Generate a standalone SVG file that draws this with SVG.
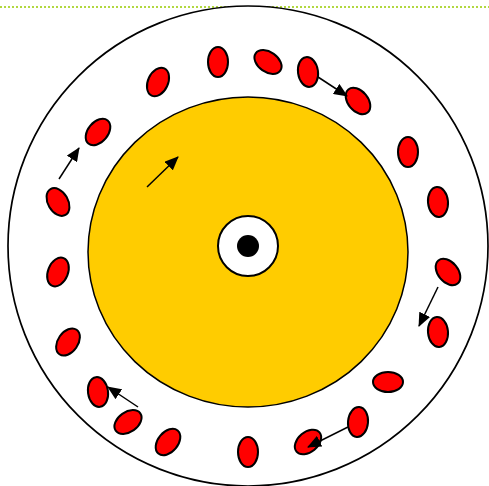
<svg xmlns="http://www.w3.org/2000/svg" width="489" height="486" viewBox="0 0 489 486">
<defs>
<style>
.e{fill:#ff0000;stroke:#000;stroke-width:2}
.a{stroke:#000;stroke-width:1.5;fill:none;marker-end:url(#ah)}
</style>
<marker id="ah" viewBox="0 0 14 12" refX="13" refY="6" markerWidth="14" markerHeight="12" markerUnits="userSpaceOnUse" orient="auto">
<path d="M0,0 L14,6 L0,12 Z" fill="#000"/>
</marker>
</defs>
<rect width="489" height="486" fill="#fff"/>
<line x1="0" y1="7" x2="489" y2="7" stroke="#99cc00" stroke-width="1.5" stroke-dasharray="2,2"/>
<g id="outer"><circle cx="248" cy="246" r="240" fill="#fff" stroke="#000" stroke-width="1.7"/></g>
<g id="core"><ellipse cx="248" cy="252" rx="160" ry="155" fill="#ffcc00" stroke="#000" stroke-width="1.5"/></g>
<g id="hub"><circle cx="248" cy="246" r="30" fill="#fff" stroke="#000" stroke-width="2"/><circle cx="248" cy="246" r="11" fill="#000"/></g>
<g id="particles">
<ellipse class="e" cx="218" cy="62" rx="10" ry="15"/>
<ellipse class="e" cx="268" cy="62" rx="10" ry="15" transform="rotate(-55 268 62)"/>
<ellipse class="e" cx="308" cy="72" rx="10" ry="15" transform="rotate(-8 308 72)"/>
<ellipse class="e" cx="358" cy="101" rx="10" ry="15" transform="rotate(-40 358 101)"/>
<ellipse class="e" cx="408" cy="152" rx="10" ry="15"/>
<ellipse class="e" cx="438" cy="202" rx="10" ry="15" transform="rotate(-5 438 202)"/>
<ellipse class="e" cx="448" cy="272" rx="10" ry="15" transform="rotate(-40 448 272)"/>
<ellipse class="e" cx="438" cy="332" rx="10" ry="15" transform="rotate(-5 438 332)"/>
<ellipse class="e" cx="388" cy="382" rx="15" ry="10"/>
<ellipse class="e" cx="358" cy="422" rx="10" ry="15" transform="rotate(5 358 422)"/>
<ellipse class="e" cx="308" cy="442" rx="10" ry="15" transform="rotate(50 308 442)"/>
<ellipse class="e" cx="248" cy="452" rx="10" ry="15"/>
<ellipse class="e" cx="168" cy="442" rx="10" ry="15" transform="rotate(40 168 442)"/>
<ellipse class="e" cx="128" cy="422" rx="10" ry="15" transform="rotate(55 128 422)"/>
<ellipse class="e" cx="98" cy="392" rx="10" ry="15" transform="rotate(-8 98 392)"/>
<ellipse class="e" cx="68" cy="342" rx="10" ry="15" transform="rotate(35 68 342)"/>
<ellipse class="e" cx="58" cy="272" rx="10" ry="15" transform="rotate(22 58 272)"/>
<ellipse class="e" cx="58" cy="202" rx="10" ry="15" transform="rotate(-30 58 202)"/>
<ellipse class="e" cx="98" cy="132" rx="10" ry="15" transform="rotate(40 98 132)"/>
<ellipse class="e" cx="158" cy="82" rx="10" ry="15" transform="rotate(25 158 82)"/>
</g>
<g id="connectors">
<line class="a" x1="318" y1="77" x2="347" y2="96"/>
<line class="a" x1="438" y1="287" x2="419" y2="326"/>
<line class="a" x1="348" y1="427" x2="308" y2="447"/>
<line class="a" x1="138" y1="407" x2="108" y2="387"/>
<line class="a" x1="59" y1="179" x2="79" y2="148"/>
<line class="a" x1="147" y1="187" x2="178" y2="157"/>
</g>
</svg>
